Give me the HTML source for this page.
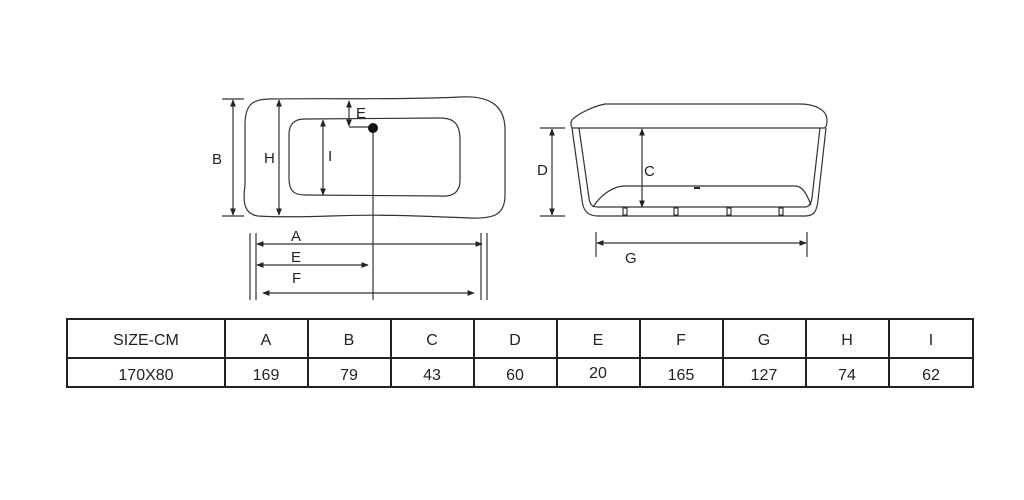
<!DOCTYPE html>
<html><head><meta charset="utf-8"><style>
html,body{margin:0;padding:0;background:#fff;width:1024px;height:500px;overflow:hidden}
svg{display:block}
text{font-family:"Liberation Sans",sans-serif;fill:#222}
</style></head><body>
<svg width="1024" height="500" viewBox="0 0 1024 500" xmlns="http://www.w3.org/2000/svg">
<defs>
<marker id="ar" viewBox="0 0 10 10" refX="9" refY="5" markerWidth="6" markerHeight="6" orient="auto-start-reverse">
<path d="M0,1 L10,5 L0,9 z" fill="#222"/></marker>
</defs>
<g fill="none" stroke="#333" stroke-width="1.2">
<path d="M270,99 C330,98 400,100 460,97 C495,95 505,110 505,130 L505,195 C505,214 495,219 470,218 C420,216 380,214 330,216 C300,217 275,217 258,216 C243,214 243,200 245,185 L245,125 C245,105 252,99 270,99 Z"/>
<path d="M305,119 L440,118 C455,118 460,125 460,140 L460,180 C460,193 452,197 440,196 L305,195 C293,195 289,190 289,178 L289,135 C289,124 294,119 305,119 Z"/>
<line x1="222" y1="99" x2="244" y2="99"/><line x1="222" y1="216" x2="244" y2="216"/>
<line x1="233" y1="100" x2="233" y2="215" marker-start="url(#ar)" marker-end="url(#ar)"/>
<line x1="279" y1="100" x2="279" y2="215" marker-start="url(#ar)" marker-end="url(#ar)"/>
<line x1="323" y1="120" x2="323" y2="195" marker-start="url(#ar)" marker-end="url(#ar)"/>
<line x1="349" y1="101" x2="349" y2="126" marker-start="url(#ar)" marker-end="url(#ar)"/>
<line x1="349" y1="127" x2="373" y2="127"/>
<line x1="373" y1="128" x2="373" y2="300"/>
<line x1="250" y1="233" x2="250" y2="300"/><line x1="256" y1="233" x2="256" y2="300"/>
<line x1="481" y1="233" x2="481" y2="300"/><line x1="487" y1="233" x2="487" y2="300"/>
<line x1="257" y1="244" x2="482" y2="244" marker-start="url(#ar)" marker-end="url(#ar)"/>
<line x1="257" y1="265" x2="368" y2="265" marker-start="url(#ar)" marker-end="url(#ar)"/>
<line x1="263" y1="293" x2="474" y2="293" marker-start="url(#ar)" marker-end="url(#ar)"/>
<path d="M571,123 C570,118 590,107 605,104 L800,104 C815,104 827,110 827,120 C827,125 826,128 824,128 L573,128 C571,128 571,125 571,123 Z"/>
<path d="M572,128 L582,200 C583,211 588,216 598,216 L805,216 C814,216 817,211 818,200 L826,128"/>
<path d="M579,128 L589,198 C590,205 592,207 598,207 L805,207 C809,207 811,204 812,198 L820,128"/>
<path d="M593,207 C600,196 612,186 625,186 L795,186 C803,186 807,195 811,205"/>
<rect x="623" y="208" width="4" height="7"/><rect x="674" y="208" width="4" height="7"/>
<rect x="727" y="208" width="4" height="7"/><rect x="779" y="208" width="4" height="7"/>
<line x1="540" y1="128" x2="565" y2="128"/><line x1="540" y1="216" x2="565" y2="216"/>
<line x1="552" y1="129" x2="552" y2="215" marker-start="url(#ar)" marker-end="url(#ar)"/>
<line x1="642" y1="129" x2="642" y2="207" marker-start="url(#ar)" marker-end="url(#ar)"/>
<line x1="596" y1="232" x2="596" y2="257"/><line x1="807" y1="232" x2="807" y2="257"/>
<line x1="597" y1="243" x2="806" y2="243" marker-start="url(#ar)" marker-end="url(#ar)"/>
</g>
<circle cx="373" cy="128" r="5" fill="#111"/>
<rect x="694" y="187" width="6" height="2" fill="#222"/>
<g font-size="15">
<text x="212" y="164">B</text><text x="264" y="163">H</text><text x="328" y="161">I</text>
<text x="356" y="118">E</text>
<text x="291" y="241">A</text><text x="291" y="262">E</text><text x="292" y="283">F</text>
<text x="537" y="175">D</text><text x="644" y="176">C</text><text x="625" y="263">G</text>
</g>
<g fill="none" stroke="#222" stroke-width="2">
<rect x="67" y="319" width="906" height="68"/>
<line x1="67" y1="358" x2="973" y2="358"/>
<line x1="225" y1="319" x2="225" y2="387"/><line x1="308" y1="319" x2="308" y2="387"/>
<line x1="391" y1="319" x2="391" y2="387"/><line x1="474" y1="319" x2="474" y2="387"/>
<line x1="557" y1="319" x2="557" y2="387"/><line x1="640" y1="319" x2="640" y2="387"/>
<line x1="723" y1="319" x2="723" y2="387"/><line x1="806" y1="319" x2="806" y2="387"/>
<line x1="889" y1="319" x2="889" y2="387"/>
</g>
<g font-size="16" text-anchor="middle">
<text x="146" y="345">SIZE-CM</text><text x="266" y="345">A</text><text x="349" y="345">B</text>
<text x="432" y="345">C</text><text x="515" y="345">D</text><text x="598" y="345">E</text>
<text x="681" y="345">F</text><text x="764" y="345">G</text><text x="847" y="345">H</text>
<text x="931" y="345">I</text>
<text x="146" y="380">170X80</text><text x="266" y="380">169</text><text x="349" y="380">79</text>
<text x="432" y="380">43</text><text x="515" y="380">60</text><text x="598" y="378">20</text>
<text x="681" y="380">165</text><text x="764" y="380">127</text><text x="847" y="380">74</text>
<text x="931" y="380">62</text>
</g>
</svg>
</body></html>
